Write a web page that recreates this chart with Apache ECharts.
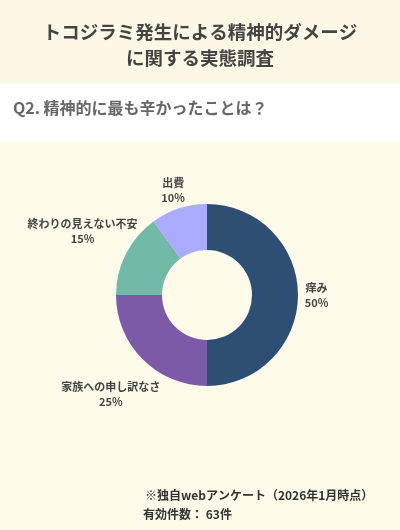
<!DOCTYPE html>
<html><head><meta charset="utf-8">
<script src="https://cdn.jsdelivr.net/npm/echarts@6/dist/echarts.min.js"></script>
<style>html,body{margin:0;padding:0;background:#fffbeb;}#c{width:400px;height:530px;}</style>
</head><body><div id="c"></div>
<script>
const categories = ['痒み', '家族への申し訳なさ', '終わりの見えない不安', '出費'];
const values = [50, 25, 15, 10];
const colors = ['#2e4f73', '#7d5aa8', '#72b9a8', '#aaaaff'];
const titleText = 'トコジラミ発生による精神的ダメージ\nに関する実態調査';
const subtitleText = 'Q2. 精神的に最も辛かったことは？';
const noteLines = ['※独自webアンケート（2026年1月時点）', '有効件数： 63件'];

const font = '"Noto Sans CJK JP", "Noto Sans", sans-serif';
const chart = echarts.init(document.getElementById('c'), null, {renderer: 'canvas'});
chart.setOption({
  backgroundColor: '#fffbeb',
  animation: false,
  graphic: [
    {type: 'rect', left: 0, top: 0, z: -10, shape: {width: 400, height: 83}, style: {fill: '#fdf8e6'}},
    {type: 'rect', left: 0, top: 83, z: -10, shape: {width: 400, height: 58}, style: {fill: '#ffffff'}},
    {type: 'text', left: 'center', top: 19, style: {text: titleText, font: 'bold 18.5px ' + font, fill: '#444444', textAlign: 'center', lineHeight: 26}},
    {type: 'text', left: 13, top: 100, style: {text: subtitleText, font: 'bold 16px ' + font, fill: '#666666'}},
    {type: 'text', left: 145, top: 489, style: {text: noteLines[0], font: 'bold 12px ' + font, fill: '#333333'}},
    {type: 'text', left: 143, top: 508, style: {text: noteLines[1], font: 'bold 12px ' + font, fill: '#333333'}}
  ],
  series: [{
    type: 'pie',
    center: [207, 295],
    radius: [45, 91],
    startAngle: 90,
    clockwise: true,
    color: colors,
    itemStyle: {borderWidth: 0},
    label: {
      show: true,
      position: 'outside',
      formatter: '{b}\n{d}%',
      fontFamily: font,
      fontWeight: 'bold',
      fontSize: 11,
      lineHeight: 15,
      color: '#444444',
      align: 'center',
      overflow: 'none'
    },
    labelLine: {show: false, length: 8, length2: 0},
    labelLayout: function (p) {
      const pts = p.labelLinePoints;
      if (!pts) return {};
      const dx = pts[1][0] - pts[0][0], dy = pts[1][1] - pts[0][1];
      const L = Math.hypot(dx, dy) || 1;
      const w = p.labelRect.width;
      const extra = 18 + 0.35 * Math.max(0, w - 22);
      return {
        x: pts[0][0] + dx / L * extra,
        y: pts[0][1] + dy / L * extra + (dy > 0 ? 3 : 0),
        align: 'center', verticalAlign: 'middle'
      };
    },
    emphasis: {disabled: true},
    data: categories.map((c, i) => ({name: c, value: values[i]}))
  }]
});
</script></body></html>
